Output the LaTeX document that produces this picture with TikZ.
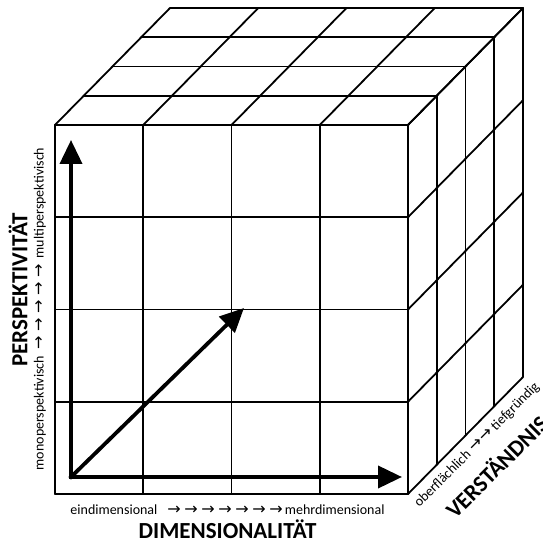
\documentclass[tikz,border=0pt]{standalone}
\usepackage{fontspec}
\setmainfont{Carlito}
\newfontfamily\arrowfont{DejaVu Sans}
\usetikzlibrary{arrows.meta}
\tikzset{
  gridline/.style  = {line width=1.8pt, line cap=round},
  axisarrow/.style = {line width=3.8pt, line cap=rect,
                      -{Triangle[length=24pt, width=22pt]}},
  axistitle/.style = {font=\fontsize{23}{26}\selectfont\bfseries, inner sep=0pt},
  axisscale/.style = {font=\fontsize{14}{16}\selectfont, inner sep=0pt},
}
\newcommand{\sarr}{{\arrowfont\fontsize{16}{16}\selectfont\char"2192}}

\begin{document}
\begin{tikzpicture}[x=1pt, y=1pt]
    \useasboundingbox (0,0) rectangle (542,544);
    % cell width, cell height, depth step
    \def\cw{88.25} \def\ch{92.25} \def\dx{28.75} \def\dy{29.25}

    % --- FRONT FACE ---
    \foreach \i in {0,...,4} {
        \draw[gridline] (55+\i*\cw, 50) -- ++(0, 4*\ch);
        \draw[gridline] (55, 50+\i*\ch) -- ++(4*\cw, 0);
    }

    % --- TOP FACE ---
    \foreach \i in {0,...,4} {
        \draw[gridline] (55+\i*\cw, 419) -- ++(4*\dx, 4*\dy);
        \draw[gridline] (55+\i*\dx, 419+\i*\dy) -- ++(4*\cw, 0);
    }

    % --- RIGHT FACE ---
    \foreach \i in {0,...,4} {
        \draw[gridline] (408, 50+\i*\ch) -- ++(4*\dx, 4*\dy);
        \draw[gridline] (408+\i*\dx, 50+\i*\dy) -- ++(0, 4*\ch);
    }

    % --- AXES ---
    \coordinate (origin) at (71, 67);
    \coordinate (perstip) at (71, 404);
    \coordinate (dimtip) at (402, 67);
    \coordinate (verstip) at (244, 236);
    \draw[axisarrow] (origin) -- (perstip);
    \draw[axisarrow] (origin) -- (dimtip);
    \draw[axisarrow] (origin) -- (verstip);

    % --- LABELS ---
    \node[axistitle, rotate=90] (perstitle) at (18, 254) {PERSPEKTIVITÄT};
    \node[axisscale, rotate=90] (persscale) at (40, 235)
        {monoperspektivisch\hspace{6pt}\sarr\hspace{4.6pt}\sarr\hspace{4.6pt}\sarr\hspace{4.6pt}\sarr\hspace{4.6pt}\sarr\hspace{6pt}multiperspektivisch};

    \node[axisscale] (dimscale) at (227.5, 34)
        {eindimensional\hspace{10pt}\sarr\hspace{3.6pt}\sarr\hspace{3.6pt}\sarr\hspace{3.6pt}\sarr\hspace{3.6pt}\sarr\hspace{3.6pt}\sarr\hspace{3.6pt}\sarr\hspace{2pt}mehrdimensional};
    \node[axistitle] (dimtitle) at (227.5, 15) {DIMENSIONALITÄT};

    \node[axisscale, rotate=45] (versscale) at (477, 99)
        {oberflächlich\hspace{4pt}\sarr\hspace{1pt}\sarr\hspace{3pt}tiefgründig};
    \node[axistitle, rotate=45] (verstitle) at (496, 78) {VERSTÄNDNIS};

\end{tikzpicture}
\end{document}
